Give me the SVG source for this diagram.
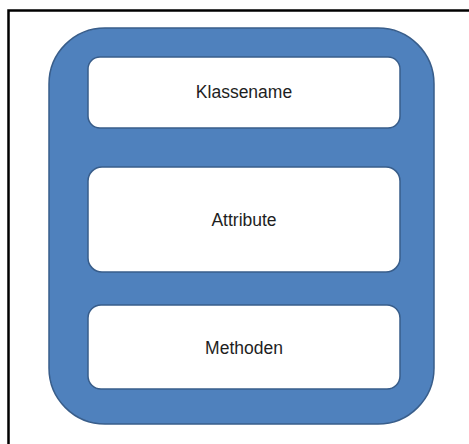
<svg xmlns="http://www.w3.org/2000/svg" width="469" height="444" viewBox="0 0 469 444">
  <style>
    .frame { fill: #ffffff; stroke: #000000; stroke-width: 2.5; }
    .outer { fill: #4f81bd; stroke: #385d8a; stroke-width: 1.5; }
    .part { fill: #ffffff; stroke: #385d8a; stroke-width: 1.5; }
    .label { font-family: "Liberation Sans", Arial, sans-serif; font-size: 17.5px; fill: #1e1e1e; text-anchor: middle; }
  </style>
  <rect x="0" y="0" width="469" height="444" fill="#ffffff"/>
  <!-- page frame, running off the right and bottom edges -->
  <rect class="frame" x="8.5" y="10.5" width="480" height="460"/>
  <g id="class">
    <rect class="outer" x="49" y="28" width="385" height="396" rx="56" ry="56"/>
  </g>
  <g id="klassename">
    <rect class="part" x="88" y="57" width="312" height="71" rx="12" ry="12"/>
    <text class="label" x="244" y="98">Klassename</text>
  </g>
  <g id="attribute">
    <rect class="part" x="88" y="167" width="312" height="105" rx="14" ry="14"/>
    <text class="label" x="244" y="226">Attribute</text>
  </g>
  <g id="methoden">
    <rect class="part" x="88" y="305" width="312" height="84" rx="13" ry="13"/>
    <text class="label" x="244" y="354">Methoden</text>
  </g>
  <g id="connectors"/>
</svg>
